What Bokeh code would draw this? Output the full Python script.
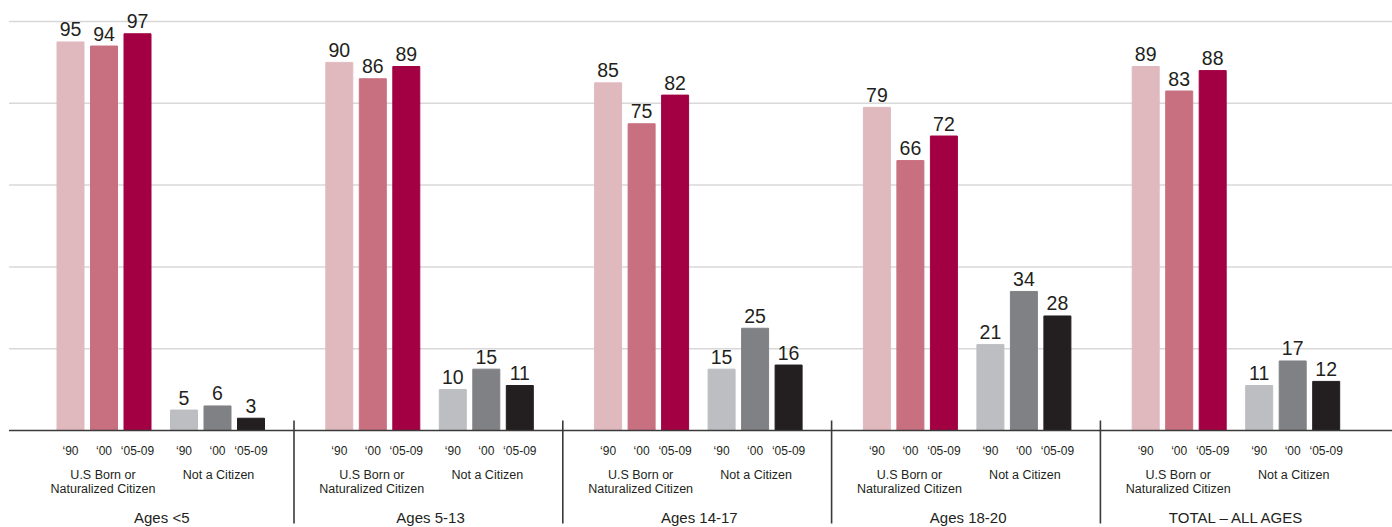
from bokeh.plotting import figure
from bokeh.models import Range1d, ColumnDataSource
from bokeh.core.properties import value
from bokeh.embed import file_html
from bokeh.resources import INLINE

# ---- data ----
groups = ["Ages <5", "Ages 5-13", "Ages 14-17", "Ages 18-20", "TOTAL \u2013 ALL AGES"]
years = ["\u201890", "\u201800", "\u201805-09"]
citizen = [[95, 94, 97], [90, 86, 89], [85, 75, 82], [79, 66, 72], [89, 83, 88]]
noncitizen = [[5, 6, 3], [10, 15, 11], [15, 25, 16], [21, 34, 28], [11, 17, 12]]
sub_labels = [["U.S Born or", "Naturalized Citizen"], ["Not a Citizen"]]
citizen_colors = ["#E0B9BF", "#C87080", "#A30044"]
noncitizen_colors = ["#BDBEC2", "#808185", "#231F20"]
grid_values = [20, 40, 60, 80, 100]

# ---- layout (pixel geometry) ----
W, H = 1392, 527
K = 4.09            # px per value unit
BASE = 430          # baseline page y
TOP = 0

def ypx(py):
    return (BASE - py) / K

FONT = value("Liberation Sans")
TXT = "#231F20"

p = figure(width=W, height=H, output_backend="svg", toolbar_location=None,
           x_range=Range1d(0, W), y_range=Range1d(ypx(TOP + H), ypx(TOP)),
           min_border=0, outline_line_color=None)
p.xaxis.visible = False
p.yaxis.visible = False
p.xgrid.visible = False
p.ygrid.visible = False

# horizontal gridlines
LEFT, RIGHT = 8.5, W
p.segment(x0=[LEFT] * len(grid_values), y0=grid_values, x1=[RIGHT] * len(grid_values),
          y1=grid_values, line_color="#D8D8D8", line_width=1.5)

GROUP_STEP = 268.8
X0 = 70
offsets = [0, 33.5, 67, 113.5, 147, 180.5]

bx, btop, bcol, lbl, lbl_y = [], [], [], [], []
tx, tlab = [], []
for g in range(len(groups)):
    vals = citizen[g] + noncitizen[g]
    cols = citizen_colors + noncitizen_colors
    for i, v in enumerate(vals):
        x = X0 + g * GROUP_STEP + offsets[i]
        bx.append(x); btop.append(v); bcol.append(cols[i])
        lbl.append(str(v)); lbl_y.append(v + 12.5 / K)
        tx.append(x); tlab.append(years[i % 3])

src = ColumnDataSource(dict(x=bx, top=btop, color=bcol, lbl=lbl, ly=lbl_y))
p.vbar(x="x", top="top", bottom=0, width=27, color="color", source=src)
p.text(x="x", y="ly", text="lbl", source=src, text_font=FONT, text_font_size="19.5px",
       text_color=TXT, text_align="center", text_baseline="alphabetic")

# year tick labels
p.text(x=tx, y=[ypx(450)] * len(tx), text=tlab, text_font=FONT, text_font_size="12px",
       text_color=TXT, text_align="center", text_baseline="middle")

# subgroup labels and group labels
sx, sy, st = [], [], []
gx, gt = [], []
for g in range(len(groups)):
    base = X0 + g * GROUP_STEP
    cx1 = base + offsets[1] - 1
    cx2 = base + offsets[4] + 1
    sx += [cx1, cx1, cx2]
    sy += [ypx(474), ypx(488), ypx(474)]
    st += sub_labels[0] + sub_labels[1]
    gx.append(base + (offsets[0] + offsets[5]) / 2 + 1)
    gt.append(groups[g])
p.text(x=sx, y=sy, text=st, text_font=FONT, text_font_size="12.5px",
       text_color=TXT, text_align="center", text_baseline="middle")
p.text(x=gx, y=[ypx(517)] * len(gx), text=gt, text_font=FONT, text_font_size="15px",
       text_color=TXT, text_align="center", text_baseline="middle")

# baseline
p.segment(x0=[LEFT], y0=[0], x1=[RIGHT], y1=[0], line_color="#3A3A3A", line_width=1.6)

# separators
sep_x = [X0 + 223.5 + g * GROUP_STEP for g in range(len(groups) - 1)]
p.segment(x0=sep_x, y0=[ypx(420)] * len(sep_x), x1=sep_x, y1=[ypx(523)] * len(sep_x),
          line_color="#3A3A3A", line_width=1.6)

open("out.html", "w").write(file_html(p, INLINE))
